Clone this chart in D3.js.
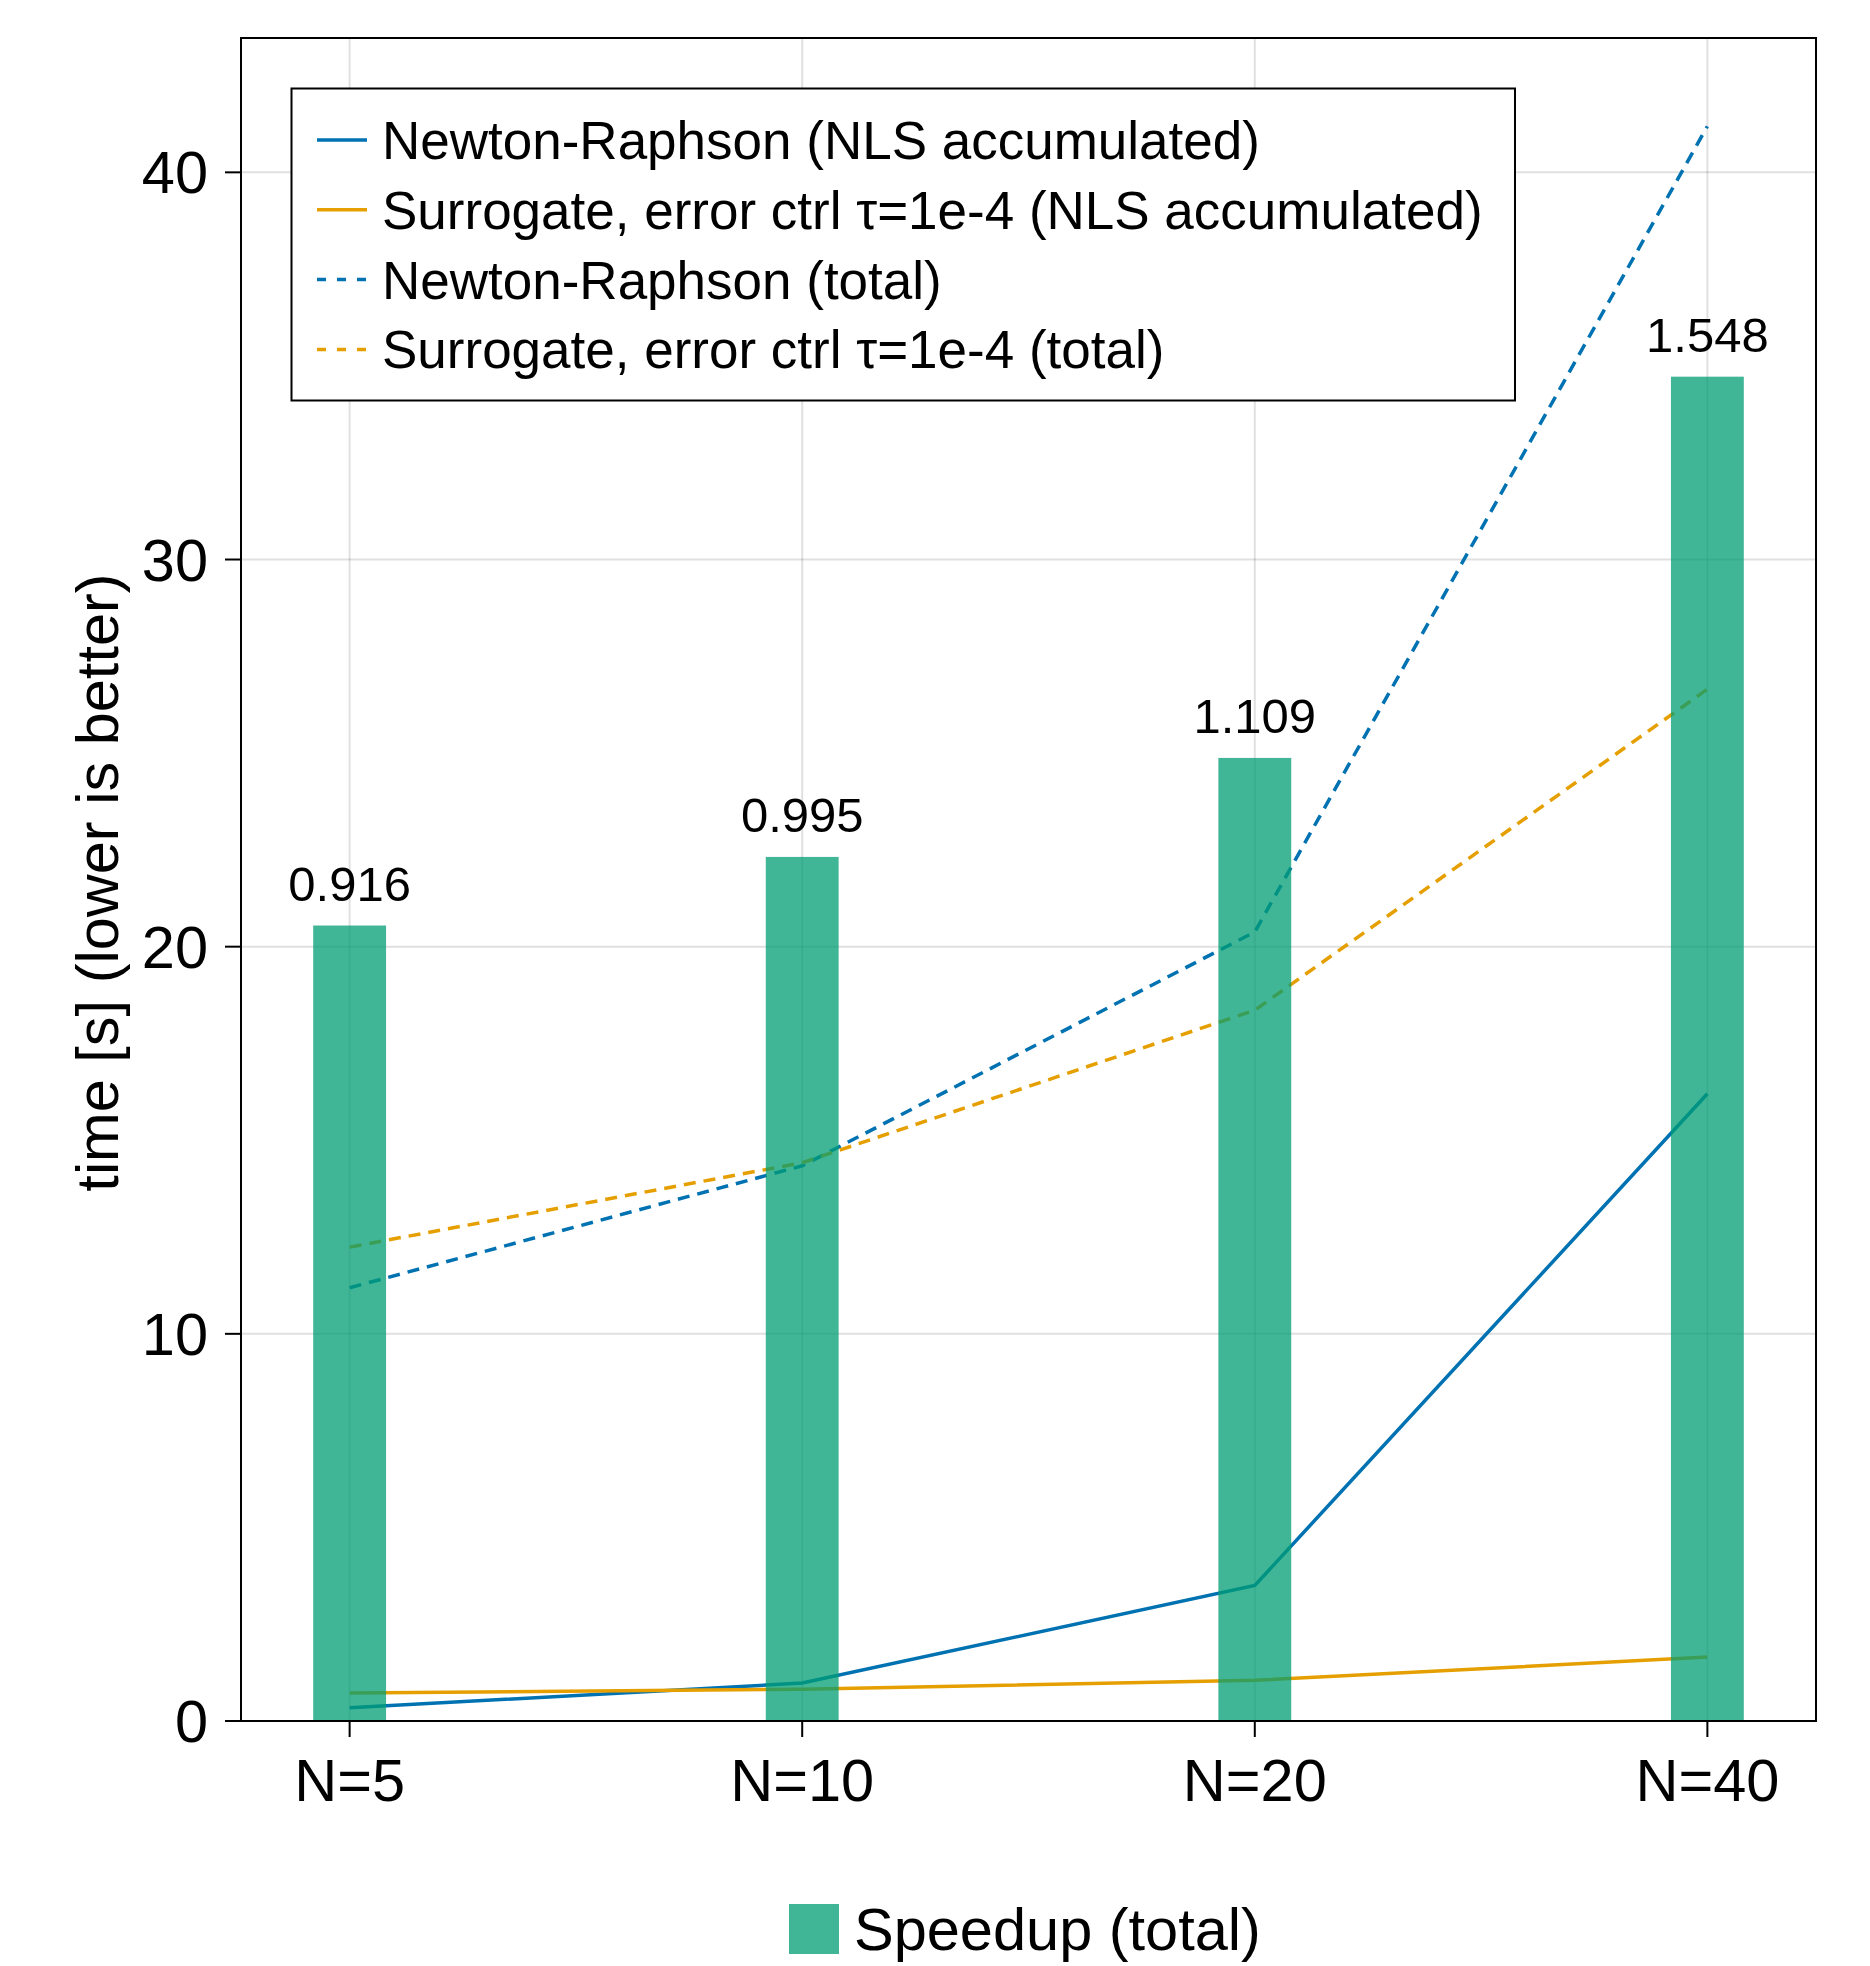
<!DOCTYPE html>
<html>
<head>
<meta charset="utf-8">
<script src="https://cdn.jsdelivr.net/npm/d3@7"></script>
<style>
  body { margin: 0; background: #fff; }
  svg { display: block; font-family: "Liberation Sans", Arial, sans-serif; }
</style>
</head>
<body>
<div id="chart"></div>
<script>
/*---------- DATA ----------*/
const categories = ["N=5", "N=10", "N=20", "N=40"];

// times in seconds
const nrNls = [0.34, 0.98, 3.5, 16.2];
const surNls = [0.72, 0.82, 1.05, 1.65];
const nrTotal = [11.19, 14.34, 20.38, 41.19];
const surTotal = [12.24, 14.42, 18.36, 26.65];

// speedup bars (own scale)
const speedup = [0.916, 0.995, 1.109, 1.548];

const yTicks = [0, 10, 20, 30, 40];

const seriesNames = [
  "Newton-Raphson (NLS accumulated)",
  "Surrogate, error ctrl τ=1e-4 (NLS accumulated)",
  "Newton-Raphson (total)",
  "Surrogate, error ctrl τ=1e-4 (total)",
];

/*---------- SETUP ----------*/
const width = 1870;
const height = 1966;
const plot = { left: 241, right: 1816, top: 38, bottom: 1721 };

const blue = "#0072B2";
const orange = "#E69F00";
const green = "#009E73";
const dash = "12,8";

const svg = d3
  .select("#chart")
  .append("svg")
  .attr("width", width)
  .attr("height", height);

svg.append("rect").attr("width", width).attr("height", height).attr("fill", "#fff");

// Scales
const x = d3
  .scalePoint()
  .domain(categories)
  .range([plot.left, plot.right])
  .padding(0.24);

const y = d3.scaleLinear().domain([0, 43.47]).range([plot.bottom, plot.top]);

// speedup is drawn on its own axis (not shown)
const ySpeed = d3.scaleLinear().domain([0, 1.938]).range([plot.bottom, plot.top]);

/*---------- GRID ----------*/
svg
  .append("g")
  .selectAll("line")
  .data(yTicks)
  .join("line")
  .attr("x1", plot.left)
  .attr("x2", plot.right)
  .attr("y1", (d) => y(d))
  .attr("y2", (d) => y(d))
  .attr("stroke", "rgba(0,0,0,0.12)")
  .attr("stroke-width", 2);

svg
  .append("g")
  .selectAll("line")
  .data(categories)
  .join("line")
  .attr("x1", (d) => x(d))
  .attr("x2", (d) => x(d))
  .attr("y1", plot.top)
  .attr("y2", plot.bottom)
  .attr("stroke", "rgba(0,0,0,0.12)")
  .attr("stroke-width", 2);

/*---------- LINES ----------*/
const line = d3
  .line()
  .x((d, i) => x(categories[i]))
  .y((d) => y(d));

const series = [
  { values: nrNls, color: blue, dashed: false },
  { values: surNls, color: orange, dashed: false },
  { values: nrTotal, color: blue, dashed: true },
  { values: surTotal, color: orange, dashed: true },
];

svg
  .append("g")
  .selectAll("path")
  .data(series)
  .join("path")
  .attr("d", (d) => line(d.values))
  .attr("fill", "none")
  .attr("stroke", (d) => d.color)
  .attr("stroke-width", 3.5)
  .attr("stroke-dasharray", (d) => (d.dashed ? dash : null));

/*---------- BARS ----------*/
const barWidth = x.step() * 0.161;

svg
  .append("g")
  .selectAll("rect")
  .data(speedup)
  .join("rect")
  .attr("x", (d, i) => x(categories[i]) - barWidth / 2)
  .attr("y", (d) => ySpeed(d))
  .attr("width", barWidth)
  .attr("height", (d) => ySpeed(0) - ySpeed(d))
  .attr("fill", green)
  .attr("fill-opacity", 0.75);

// Bar labels
svg
  .append("g")
  .selectAll("text")
  .data(speedup)
  .join("text")
  .attr("x", (d, i) => x(categories[i]))
  .attr("y", (d) => ySpeed(d) - 25)
  .attr("text-anchor", "middle")
  .attr("font-size", "49px")
  .text((d) => d.toFixed(3));

/*---------- AXES ----------*/
// Frame
svg
  .append("rect")
  .attr("x", plot.left)
  .attr("y", plot.top)
  .attr("width", plot.right - plot.left)
  .attr("height", plot.bottom - plot.top)
  .attr("fill", "none")
  .attr("stroke", "#000")
  .attr("stroke-width", 2);

// Y ticks
const yAxis = svg.append("g");
yAxis
  .selectAll("line")
  .data(yTicks)
  .join("line")
  .attr("x1", plot.left - 16)
  .attr("x2", plot.left)
  .attr("y1", (d) => y(d))
  .attr("y2", (d) => y(d))
  .attr("stroke", "#000")
  .attr("stroke-width", 2);
yAxis
  .selectAll("text")
  .data(yTicks)
  .join("text")
  .attr("x", plot.left - 33)
  .attr("y", (d) => y(d) + 21)
  .attr("text-anchor", "end")
  .attr("font-size", "59.5px")
  .text((d) => d);

// X ticks
const xAxis = svg.append("g");
xAxis
  .selectAll("line")
  .data(categories)
  .join("line")
  .attr("x1", (d) => x(d))
  .attr("x2", (d) => x(d))
  .attr("y1", plot.bottom)
  .attr("y2", plot.bottom + 16)
  .attr("stroke", "#000")
  .attr("stroke-width", 2);
xAxis
  .selectAll("text")
  .data(categories)
  .join("text")
  .attr("x", (d) => x(d))
  .attr("y", 1801)
  .attr("text-anchor", "middle")
  .attr("font-size", "59.5px")
  .text((d) => d);

// Y label
svg
  .append("text")
  .attr("transform", `translate(118, ${(plot.top + plot.bottom) / 2 + 3}) rotate(-90)`)
  .attr("text-anchor", "middle")
  .attr("font-size", "59.5px")
  .text("time [s] (lower is better)");

/*---------- LEGENDS ----------*/
const legend = svg.append("g");
legend
  .append("rect")
  .attr("x", 291.5)
  .attr("y", 88.5)
  .attr("width", 1515 - 291.5)
  .attr("height", 400.5 - 88.5)
  .attr("fill", "#fff")
  .attr("stroke", "#000")
  .attr("stroke-width", 2);

const rowY = (i) => 140 + i * 69.8;

legend
  .selectAll("line")
  .data(series)
  .join("line")
  .attr("x1", 317)
  .attr("x2", 367)
  .attr("y1", (d, i) => rowY(i))
  .attr("y2", (d, i) => rowY(i))
  .attr("stroke", (d) => d.color)
  .attr("stroke-width", 3.5)
  .attr("stroke-dasharray", (d) => (d.dashed ? "9,11" : null));

legend
  .selectAll("text")
  .data(seriesNames)
  .join("text")
  .attr("x", 382)
  .attr("y", (d, i) => rowY(i) + 19)
  .attr("font-size", "53px")
  .text((d) => d);

// Bottom legend for bars
svg
  .append("rect")
  .attr("x", 789)
  .attr("y", 1904)
  .attr("width", 50)
  .attr("height", 50)
  .attr("fill", green)
  .attr("fill-opacity", 0.75);
svg
  .append("text")
  .attr("x", 854)
  .attr("y", 1950)
  .attr("font-size", "59.5px")
  .text("Speedup (total)");
</script>
</body>
</html>
